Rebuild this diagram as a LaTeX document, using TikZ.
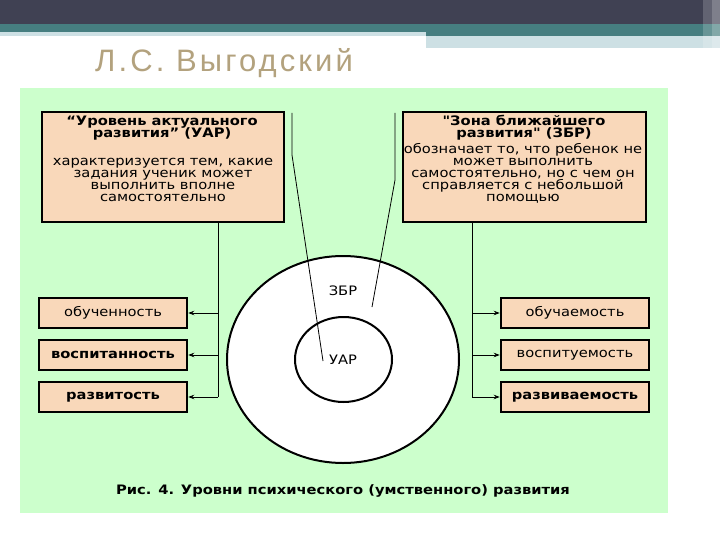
\documentclass[tikz,border=0pt]{standalone}
\usepackage{fontspec}
\setmainfont{DejaVu Sans}[FakeStretch=1.13, Ligatures=TeXOff]
\newfontfamily\titlefont{Liberation Sans}[LetterSpace=10]
\usetikzlibrary{arrows.meta}
\definecolor{topdark}{HTML}{404153}
\definecolor{topteal}{HTML}{467E80}
\definecolor{toplight}{HTML}{CDE0E4}
\definecolor{titlecol}{HTML}{B3A27E}
\definecolor{panel}{HTML}{CCFFCC}
\definecolor{peach}{HTML}{F9D8BA}
\tikzset{
  bigbox/.style={draw=black, line width=2.5pt, fill=peach, minimum height=110pt, inner sep=0pt},
  smallbox/.style={draw=black, line width=2.5pt, fill=peach, minimum width=148pt, minimum height=30pt, inner sep=0pt, font=\fontsize{13}{13}\selectfont},
  conn/.style={line width=0.8pt},
  arr/.style={conn, -{Stealth[length=6pt,width=4.5pt]}},
  txt/.style={anchor=base, inner sep=0pt, font=\fontsize{13}{13}\selectfont},
  hdr/.style={anchor=base, inner sep=0pt, font=\fontsize{13}{13}\selectfont\bfseries},
  ring/.style={draw=black, line width=2pt, fill=white},
}
\begin{document}
\begin{tikzpicture}[x=1pt,y=-1pt]
\useasboundingbox (0,0) rectangle (720,540);
\fill[white] (0,0) rectangle (720,540);
% header bars
\fill[topdark] (0,0) rectangle (720,24);
\fill[topteal] (0,24) rectangle (426,32);
\fill[toplight] (0,32) rectangle (426,36);
\fill[topteal] (426,24) rectangle (720,36);
\fill[toplight] (426,36) rectangle (720,48);
\fill[white, opacity=0.18] (703,0) rectangle (720,48);
\fill[white, opacity=0.18] (712,0) rectangle (720,48);
% title
\node[anchor=base west, inner sep=0pt, text=titlecol, font=\titlefont\fontsize{31}{31}\selectfont] (title) at (95,72) {Л.С. Выгодский};
% panel
\fill[panel] (20,88) rectangle (668,513);
% circles
\draw[ring] (343,359.5) ellipse [x radius=116pt, y radius=103.5pt];
\draw[ring] (343.5,359.5) ellipse [x radius=48.5pt, y radius=42.5pt];
\node[txt] (zbrlbl) at (343,295) {ЗБР};
\node[txt] (uarlbl) at (343,364) {УАР};
% top boxes
\node[bigbox, minimum width=242pt] (uar) at (163,167) {};
\node[bigbox, minimum width=243pt] (zbr) at (524.5,167) {};
% left box text
\node[hdr] (uarh1) at (162,126) {“Уровень актуального};
\node[hdr] (uarh2) at (162,138) {развития” (УАР)};
\node[txt] (uarb1) at (163,166) {характеризуется тем, какие};
\node[txt] (uarb2) at (163,178) {задания ученик может};
\node[txt] (uarb3) at (163,190) {выполнить вполне};
\node[txt] (uarb4) at (163,202) {самостоятельно};
% right box text
\node[hdr] (zbrh1) at (524,126) {"Зона ближайшего};
\node[hdr] (zbrh2) at (524,138) {развития" (ЗБР)};
\node[txt] (zbrb1) at (523,154) {обозначает то, что ребенок не};
\node[txt] (zbrb2) at (523,166) {может выполнить};
\node[txt] (zbrb3) at (523,178) {самостоятельно, но с чем он};
\node[txt] (zbrb4) at (523,190) {справляется с небольшой};
\node[txt] (zbrb5) at (523,202) {помощью};
% pointer lines
\coordinate (la) at (292,113);
\coordinate (lb) at (292,155);
\coordinate (lc) at (323,361);
\coordinate (ra) at (395,113);
\coordinate (rb) at (395,180);
\coordinate (rc) at (372,307);
\draw[conn] (la) -- (lb) -- (lc);
\draw[conn] (ra) -- (rb) -- (rc);
% small boxes
\node[smallbox] (b1) at (113,313) {обученность};
\node[smallbox] (b2) at (113,355) {\bfseries воспитанность};
\node[smallbox] (b3) at (113,397) {\bfseries развитость};
\node[smallbox] (c1) at (575,313) {обучаемость};
\node[smallbox] (c2) at (575,355) {воспитуемость};
\node[smallbox] (c3) at (575,397) {\bfseries развиваемость};
% connectors
\coordinate (jl) at (218,397);
\coordinate (jr) at (472,397);
\draw[conn] (uar.south -| jl) -- (jl);
\draw[conn] (zbr.south -| jr) -- (jr);
\draw[arr] (jl |- b1) -- (b1.east);
\draw[arr] (jl |- b2) -- (b2.east);
\draw[arr] (jl |- b3) -- (b3.east);
\draw[arr] (jr |- c1) -- (c1.west);
\draw[arr] (jr |- c2) -- (c2.west);
\draw[arr] (jr |- c3) -- (c3.west);
% caption
\node[hdr] (cap) at (343,494) {Рис. 4. Уровни психического (умственного) развития};
\end{tikzpicture}
\end{document}
